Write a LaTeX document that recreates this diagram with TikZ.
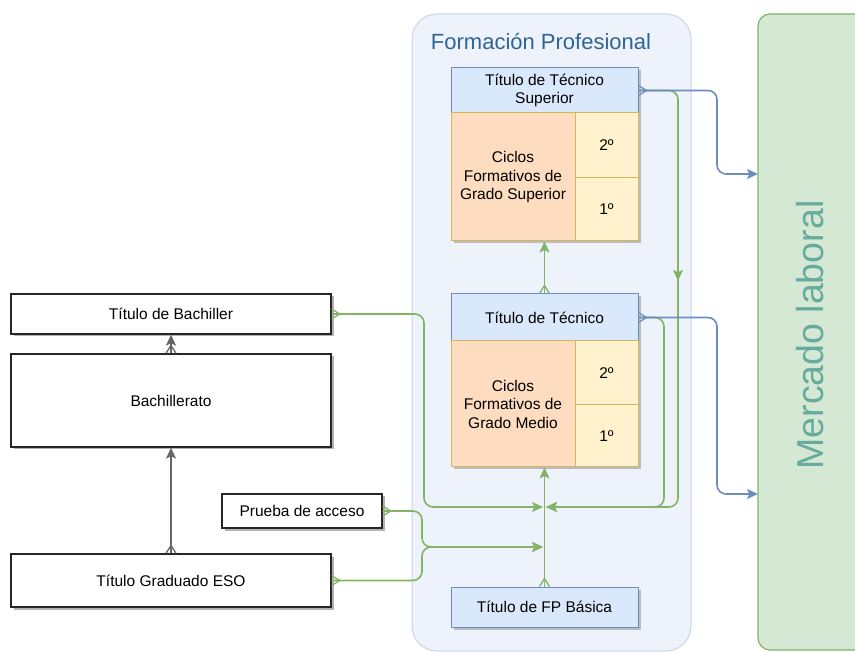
\documentclass[tikz,border=0pt]{standalone}
\usepackage{fontspec}
\setmainfont{Liberation Sans}
\usetikzlibrary{arrows.meta,shadows,decorations.markings}
\definecolor{bfill}{HTML}{DAE8FC}
\definecolor{bline}{HTML}{6C8EBF}
\definecolor{ofill}{HTML}{FDDCBF}
\definecolor{yfill}{HTML}{FFF2CC}
\definecolor{yline}{HTML}{D6B656}
\definecolor{gfill}{HTML}{D5E8D4}
\definecolor{gline}{HTML}{82B366}
\definecolor{fpfill}{HTML}{EEF3FB}
\definecolor{fpline}{HTML}{C9D5E6}
\definecolor{fptext}{HTML}{2F6496}
\definecolor{mtext}{HTML}{67AB9F}
\definecolor{grayc1}{HTML}{666666}
\begin{document}
\begin{tikzpicture}[x=1pt,y=-1pt,
 box/.style={rectangle,inner sep=1pt,align=center,font=\fontsize{15.5}{18.5}\selectfont,line width=1pt},
 whitebox/.style={box,draw=black!85,fill=white,line width=1.3pt,drop shadow={shadow xshift=2.5pt,shadow yshift=-2.5pt,opacity=0.3,fill=black}},
 bluebox/.style={box,draw=bline,fill=bfill},
 orangebox/.style={box,draw=yline,fill=ofill},
 yellowbox/.style={box,draw=yline,fill=yfill},
 grpshadow/.style={fill=black,opacity=0.22},
 con/.style={line width=1.6pt,rounded corners=9pt},
 greenc/.style={con,draw=gline},
 bluec/.style={con,draw=bline},
 grayc/.style={con,draw=grayc1},
 tip/.style={-{Stealth[length=11pt,width=10pt,inset=2.5pt]}},
 crow/.style={postaction={decorate,decoration={markings,mark=at position 0pt with {\draw[#1,line width=1.3pt,sharp corners,solid,-] (0pt,5pt) -- (8pt,0pt) -- (0pt,-5pt);}}}},
 midtip/.style={postaction={decorate,decoration={markings,mark=at position #1 with {\arrow[gline]{Stealth[length=11pt,width=10pt,inset=2.5pt]}}}}},
]
\useasboundingbox (0,0) rectangle (855,652);

% containers
\node[draw=fpline,fill=fpfill,rounded corners=25pt,minimum width=279pt,minimum height=637pt,line width=1pt,inner sep=0pt] (fp) at (551.5,332.5) {};
\node[anchor=base,text=fptext,font=\fontsize{22}{25}\selectfont] (fptitle) at (541,50) {Formación Profesional};
\node[draw=gline,fill=gfill,rounded corners=12pt,minimum width=130pt,minimum height=636pt,line width=1.2pt,inner sep=0pt] (merc) at (823,332) {};
\node[rotate=90,text=mtext,font=\fontsize{37.5}{40}\selectfont] (merct) at (810,335) {Mercado laboral};

% group shadows
\fill[grpshadow] (453.5,70.5) rectangle (640.5,243.5);
\fill[grpshadow] (453.5,296.5) rectangle (640.5,469.5);

% Grado Superior group
\node[bluebox,minimum width=187pt,minimum height=45pt] (sup) at (544.5,90.5) {Título de Técnico\\Superior};
\node[orangebox,minimum width=124pt,minimum height=128pt] (supc) at (513,177) {Ciclos\\Formativos de\\Grado Superior};
\node[yellowbox,minimum width=63pt,minimum height=65pt] (sup2) at (606.5,145.5) {2º};
\node[yellowbox,minimum width=63pt,minimum height=63pt] (sup1) at (606.5,209.5) {1º};

% Grado Medio group
\node[bluebox,minimum width=187pt,minimum height=47pt] (tec) at (544.5,317.5) {Título de Técnico};
\node[orangebox,minimum width=124pt,minimum height=126pt] (medc) at (513,404) {Ciclos\\Formativos de\\Grado Medio};
\node[yellowbox,minimum width=63pt,minimum height=64pt] (med2) at (606.5,373) {2º};
\node[yellowbox,minimum width=63pt,minimum height=62pt] (med1) at (606.5,436) {1º};

\node[bluebox,minimum width=187pt,minimum height=40pt,drop shadow={shadow xshift=2.5pt,shadow yshift=-2.5pt,opacity=0.22,fill=black}] (fpb) at (544.5,607) {Título de FP Básica};

% left boxes
\node[whitebox,minimum width=320pt,minimum height=40pt] (bachil) at (171,314) {Título de Bachiller};
\node[whitebox,minimum width=320pt,minimum height=93pt] (bach) at (171,400.5) {Bachillerato};
\node[whitebox,minimum width=320pt,minimum height=53pt] (eso) at (171,580.5) {Título Graduado ESO};
\node[whitebox,minimum width=160pt,minimum height=34pt] (prueba) at (302,511) {Prueba de acceso};

% coordinates
\coordinate (j1) at (544.5,507);
\coordinate (j2) at (544.5,547);
\coordinate (m1) at (758,174);
\coordinate (m2) at (758,494);

% gray connectors
\draw[grayc,tip,crow=grayc1] (eso.north) -- (bach.south);
\draw[grayc,tip,crow=grayc1] (bach.north) -- (bachil.south);

% green connectors
\draw[greenc,tip,crow=gline] (bachil.east) -| (424,507) -- ([xshift=-1.5pt]j1);
\draw[greenc,tip,crow=gline] (prueba.east) -| (422,547) -- ([xshift=-1.5pt]j2);
\draw[greenc,tip,crow=gline] (eso.east) -| (422,547) -- ([xshift=-1.5pt]j2);
\draw[greenc,tip,crow=gline] (fpb.north) -- (fpb.north |- medc.south);
\draw[greenc,tip,crow=gline] (tec.north) -- (tec.north |- supc.south);
\draw[greenc,tip,midtip=226pt] (sup.east) -| (678,507) -- ([xshift=1.5pt]j1);
\draw[greenc,tip] (tec.east) -| (664,507) -- ([xshift=1.5pt]j1);

% blue connectors
\draw[bluec,tip,crow=bline] (sup.east) -| (717,174) -- (m1);
\draw[bluec,tip,crow=bline] (tec.east) -| (717,494) -- (m2);
\end{tikzpicture}
\end{document}
